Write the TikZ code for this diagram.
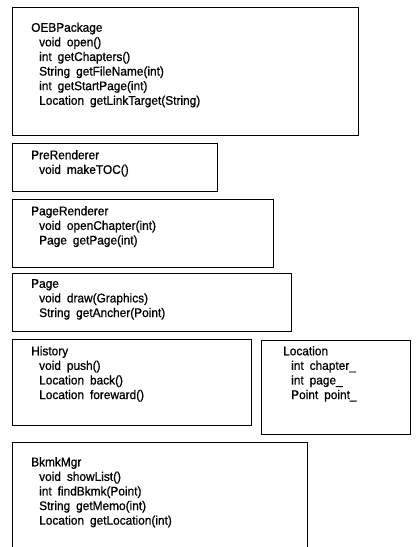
\documentclass[tikz,border=0pt]{standalone}
\usepackage{fontspec}
\setmainfont{Liberation Sans}
\newfontfamily\umlfont[FakeStretch=0.95, FakeBold=0.8, WordSpace=1.8]{Liberation Sans}
\begin{document}
\begin{tikzpicture}[x=1pt, y=-1pt,
  classbox/.style={draw, line width=1.3pt, rectangle, inner sep=0pt, anchor=north west},
  classtext/.style={anchor=north west, inner sep=0pt, align=left,
    font=\umlfont\fontsize{12.5}{14.6}\selectfont}]
\useasboundingbox (0,0) rectangle (416,547);

% class boxes
\node[classbox, minimum width=346, minimum height=128] (oeb) at (12,7) {};
\node[classbox, minimum width=205, minimum height=48]  (pre) at (12,143) {};
\node[classbox, minimum width=261, minimum height=68]  (prend) at (12,199) {};
\node[classbox, minimum width=279, minimum height=58]  (page) at (12,273) {};
\node[classbox, minimum width=239, minimum height=86]  (hist) at (12,339) {};
\node[classbox, minimum width=149, minimum height=94]  (loc) at (261,340) {};
\node[classbox, minimum width=295, minimum height=130] (bkmk) at (12,442) {};

% class names and members
\node[classtext] (oebtxt) at (31,22.5) {OEBPackage\\
  \hspace{8pt}void open()\\
  \hspace{8pt}int getChapters()\\
  \hspace{8pt}String getFileName(int)\\
  \hspace{8pt}int getStartPage(int)\\
  \hspace{8pt}Location getLinkTarget(String)};
\node[classtext] (pretxt) at (31,150) {PreRenderer\\
  \hspace{8pt}void makeTOC()};
\node[classtext] (prendtxt) at (31,206) {PageRenderer\\
  \hspace{8pt}void openChapter(int)\\
  \hspace{8pt}Page getPage(int)};
\node[classtext] (pagetxt) at (31,279) {Page\\
  \hspace{8pt}void draw(Graphics)\\
  \hspace{8pt}String getAncher(Point)};
\node[classtext] (histtxt) at (31,346) {History\\
  \hspace{8pt}void push()\\
  \hspace{8pt}Location back()\\
  \hspace{8pt}Location foreward()};
\node[classtext] (loctxt) at (283,346) {Location\\
  \hspace{8pt}int chapter\_\\
  \hspace{8pt}int page\_\\
  \hspace{8pt}Point point\_};
\node[classtext] (bkmktxt) at (31,457) {BkmkMgr\\
  \hspace{8pt}void showList()\\
  \hspace{8pt}int findBkmk(Point)\\
  \hspace{8pt}String getMemo(int)\\
  \hspace{8pt}Location getLocation(int)};
\end{tikzpicture}
\end{document}
